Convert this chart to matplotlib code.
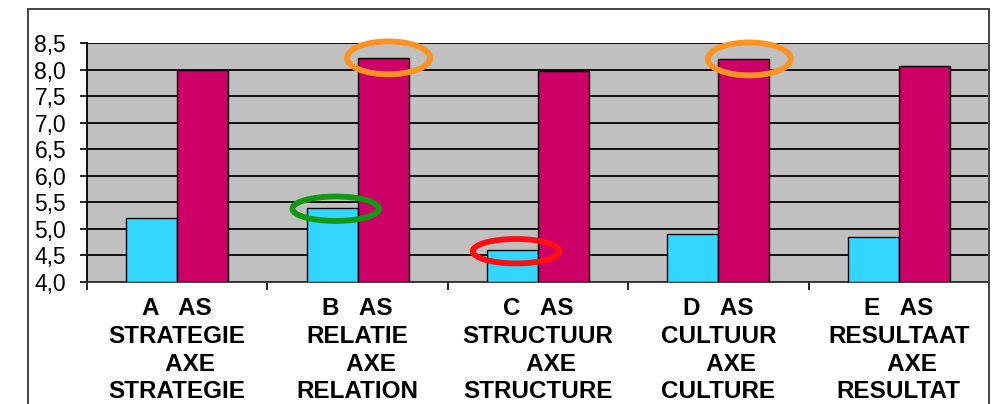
import matplotlib.pyplot as plt
import numpy as np
from matplotlib.patches import Ellipse
from matplotlib.lines import Line2D

categories = [
    "A   AS\nSTRATEGIE\n    AXE\nSTRATEGIE",
    "B   AS\nRELATIE\n    AXE\nRELATION",
    "C   AS\nSTRUCTUUR\n    AXE\nSTRUCTURE",
    "D   AS\nCULTUUR\n    AXE\nCULTURE",
    "E   AS\nRESULTAAT\n    AXE\nRESULTAT",
]
series_blue = [5.2, 5.4, 4.6, 4.9, 4.85]
series_red = [8.0, 8.22, 7.98, 8.2, 8.07]
y_ticks = [4.0, 4.5, 5.0, 5.5, 6.0, 6.5, 7.0, 7.5, 8.0, 8.5]

# highlighted bars: (series, category index, colour)
highlights = [
    ("red", 1, "#FF9320"),
    ("blue", 1, "#119A11"),
    ("blue", 2, "#FF1010"),
    ("red", 3, "#FF9320"),
]

plt.rcParams["font.family"] = ["Liberation Sans", "DejaVu Sans"]

fig = plt.figure(figsize=(10.03, 4.04), dpi=100)
ax = fig.add_axes([87 / 1003, 122 / 404, (989 - 87) / 1003, (282 - 43) / 404])

x = np.arange(len(categories)) + 0.5
w = 0.283
ax.set_facecolor("#C0C0C0")
ax.bar(x - w / 2, [v - 4.0 for v in series_blue], w, bottom=4.0,
       color="#33D6FF", edgecolor="black", linewidth=1.0, zorder=3)
ax.bar(x + w / 2, [v - 4.0 for v in series_red], w, bottom=4.0,
       color="#CC0066", edgecolor="black", linewidth=1.0, zorder=3)

ax.set_xlim(0, len(categories))
ax.set_ylim(4.0, 8.5)
ax.set_yticks(y_ticks)
ax.set_yticklabels([f"{t:.1f}".replace(".", ",") for t in y_ticks], fontsize=16.5)
ax.tick_params(axis="y", length=5, width=1.2, pad=10)

ax.set_xticks(x)
ax.set_xticklabels(categories, fontsize=17.5, fontweight="bold", linespacing=1.26)
ax.set_xticks(np.arange(len(categories) + 1), minor=True)
ax.tick_params(axis="x", which="major", length=0, pad=11)
ax.tick_params(axis="x", which="minor", length=6, width=1.2)

ax.yaxis.grid(True, color="black", linewidth=1.3, zorder=1)
ax.set_axisbelow(True)
ax.spines["top"].set_visible(False)
ax.spines["right"].set_visible(False)
ax.spines["left"].set_linewidth(1.3)
ax.spines["bottom"].set_linewidth(1.3)
ax.spines["bottom"].set_color("#333333")

for series, i, col in highlights:
    if series == "red":
        cx, cy, ew, eh = x[i] + w / 2 + 0.03, series_red[i], 0.46, 0.62
    else:
        cx, cy, ew, eh = x[i] - w / 2 + 0.02, series_blue[i] - 0.02, 0.48, 0.46
    ax.add_patch(Ellipse((cx, cy), ew, eh, fill=False, edgecolor=col,
                         linewidth=4.2, zorder=5, clip_on=False))

# outer chart frame
fx0, fx1, fy0 = 28 / 1003, 989 / 1003, 1 - 9 / 404
for xs, ys in [([fx0, fx0], [0, fy0]), ([fx0, fx1], [fy0, fy0]), ([fx1, fx1], [fy0, 0])]:
    fig.add_artist(Line2D(xs, ys, color="#444444", linewidth=1.4))

fig.savefig("out.png", dpi=100)
